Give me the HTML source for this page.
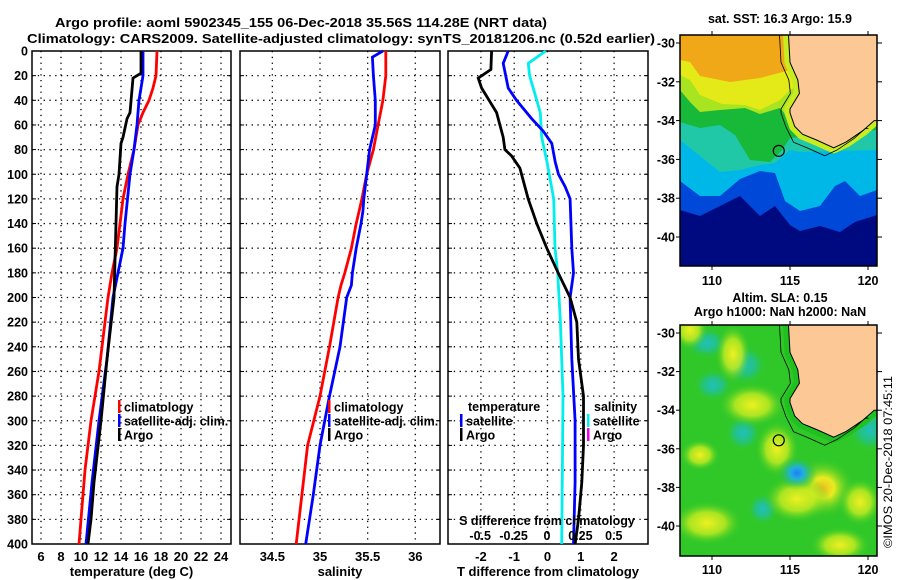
<!DOCTYPE html>
<html><head><meta charset="utf-8"><style>
html,body{margin:0;padding:0;background:#fff}
svg{display:block;font-family:"Liberation Sans",sans-serif;font-weight:bold}
</style></head><body>
<svg id="s" width="900" height="580" viewBox="0 0 900 580" xmlns="http://www.w3.org/2000/svg">
<defs>
<radialGradient id="gy"><stop offset="0" stop-color="#f0f020"/><stop offset="0.5" stop-color="#c8ec20" stop-opacity="0.8"/><stop offset="1" stop-color="#30c828" stop-opacity="0"/></radialGradient>
<radialGradient id="go"><stop offset="0" stop-color="#f0c020"/><stop offset="0.35" stop-color="#e8ec20"/><stop offset="1" stop-color="#30c828" stop-opacity="0"/></radialGradient>
<radialGradient id="gc"><stop offset="0" stop-color="#20c0c0"/><stop offset="0.5" stop-color="#20c0a0" stop-opacity="0.7"/><stop offset="1" stop-color="#30c828" stop-opacity="0"/></radialGradient>
<radialGradient id="gb"><stop offset="0" stop-color="#2080f0"/><stop offset="0.35" stop-color="#20b0e0"/><stop offset="1" stop-color="#30c828" stop-opacity="0"/></radialGradient>
<clipPath id="c1"><rect x="680" y="35" width="197" height="231"/></clipPath>
<clipPath id="c2"><rect x="680" y="325" width="197" height="231"/></clipPath>
</defs>
<text x="301" y="27" font-size="13" text-anchor="middle" textLength="492" lengthAdjust="spacingAndGlyphs">Argo profile: aoml 5902345_155 06-Dec-2018 35.56S 114.28E (NRT data)</text>
<text x="341" y="43" font-size="13" text-anchor="middle" textLength="628" lengthAdjust="spacingAndGlyphs">Climatology: CARS2009. Satellite-adjusted climatology: synTS_20181206.nc (0.52d earlier)</text>
<g id="plots"></g>
<g id="maps"></g>
<text transform="translate(892,462) rotate(-90)" font-size="12" font-weight="normal" text-anchor="middle" textLength="172" lengthAdjust="spacingAndGlyphs">©IMOS 20-Dec-2018 07:45:11</text>
</svg>
<script>
// ---- data ----
const depthsTC=[0,20,30,40,50,60,80,100,120,140,160,180,200,220,240,260,280,300,320,340,360,380,400];
const tempClim=[17.6,17.5,17.2,16.8,16.2,15.7,15.3,14.7,14.2,13.9,13.6,13.1,12.7,12.4,12.1,11.8,11.4,11.0,10.7,10.4,10.2,10.0,9.8];
const depthsTS=[0,20,40,60,80,100,140,160,200,250,300,350,400];
const tempSat=[16.2,16.2,15.8,15.6,15.3,14.9,14.4,14.2,13.2,12.6,11.8,11.1,10.5];
const depthsTA=[0,18,22,50,55,70,75,100,110,140,200,250,300,350,380,400];
const tempArgo=[16.0,16.0,15.2,14.9,14.6,14.2,14.0,13.8,13.6,13.5,13.3,12.6,12.0,11.3,11.0,10.7];
const depthsS=[0,5,20,40,60,80,100,120,130,140,160,180,190,200,240,280,320,360,400];
const salClim=[35.69,35.69,35.69,35.66,35.61,35.56,35.49,35.44,35.41,35.38,35.33,35.26,35.22,35.19,35.10,35.0,34.87,34.81,34.75];
const salSat=[35.66,35.55,35.56,35.58,35.58,35.52,35.49,35.46,35.45,35.43,35.38,35.34,35.33,35.28,35.21,35.10,35.0,34.93,34.85];
const depthsD=[0,15,22,30,45,50,60,70,80,85,95,120,140,160,180,200,220,250,280,300,320,350,380,400];
const dTArgo=[-1.68,-1.7,-2.08,-1.98,-1.64,-1.53,-1.43,-1.33,-1.28,-1.08,-0.83,-0.58,-0.32,-0.02,0.32,0.68,0.88,0.93,1.08,1.08,1.08,1.03,0.93,0.83];
const depthsDS=[0,10,30,40,55,65,75,90,100,110,120,160,180,200,250,300,350,400];
const dTSat=[-1.18,-1.33,-1.18,-0.93,-0.47,-0.13,0.13,0.23,0.33,0.53,0.68,0.73,0.78,0.68,0.73,0.83,0.83,0.78];
const depthsDC=[0,10,20,50,70,90,120,160,180,220,280,400];
const dSSat=[-0.01,-0.14,-0.13,-0.05,-0.04,0.0,0.05,0.06,0.08,0.10,0.12,0.11];
const depthTicks=[0,20,40,60,80,100,120,140,160,180,200,220,240,260,280,300,320,340,360,380,400];
const tempTicks=[6,8,10,12,14,16,18,20,22,24];
const salTicks=[34.5,35,35.5,36];
const dTTicks=[-2,-1,0,1,2];
const dSTicks=[-0.5,-0.25,0,0.25,0.5];
const lonTicks=[110,115,120];
const latTicks=[-30,-32,-34,-36,-38,-40];
const coastLon=[114.9,115.0,115.5,115.6,115.0,115.0,115.3,115.8,116.7,117.8,118.6,119.7,120.4,120.6];
const coastLat=[-29.5,-31.0,-31.9,-32.6,-33.4,-33.6,-34.3,-34.7,-35.0,-35.4,-35.1,-34.5,-34.0,-34.0];
const argoLon=114.28, argoLat=-35.56;

// ---- axes ----
const NS='http://www.w3.org/2000/svg';
const TOP=51,BOT=544;
const yD=d=>TOP+d*(BOT-TOP)/400;
const xT=t=>41+(t-6)*10;
const xS=s=>320+(s-35)*95.3;
const xDT=v=>547.5+v*33.3;
const xDS=v=>547+v*133.6;
function el(tag,attrs,parent){const e=document.createElementNS(NS,tag);for(const k in attrs)e.setAttribute(k,attrs[k]);parent.appendChild(e);return e;}
const plots=document.getElementById('plots');

function panel(name,x0,x1,ticks,xf,fmt,xlabel){
  const g=el('g',{},plots);
  
  
  depthTicks.forEach(d=>{if(d>0&&d<400){const l=el('line',{x1:x0,x2:x1,y1:yD(d),y2:yD(d),stroke:'#000','stroke-width':1.3,'stroke-dasharray':'1.3,4.5'},g);
    }
    const t1=el('line',{x1:x0,x2:x0+4,y1:yD(d),y2:yD(d),stroke:'#000'},g);
    const t2=el('line',{x1:x1-4,x2:x1,y1:yD(d),y2:yD(d),stroke:'#000'},g);
  });
  ticks.forEach(v=>{const x=xf(v);
    const l=el('line',{x1:x,x2:x,y1:TOP,y2:BOT,stroke:'#000','stroke-width':1.3,'stroke-dasharray':'1.3,4.5'},g);
    
    const t=el('text',{x:x,y:561,'font-size':13,'text-anchor':'middle'},g);t.textContent=fmt(v);
    });
  const r=el('rect',{x:x0,y:TOP,width:x1-x0,height:BOT-TOP,fill:'none',stroke:'#000','stroke-width':1.5},g);
  
  const xl=el('text',{x:(x0+x1)/2,y:576,'font-size':13,'text-anchor':'middle'},g);xl.textContent=xlabel;
  
  return g;
}
function line(g,name,ds,vs,xf,col){
  const p=el('polyline',{points:ds.map((d,i)=>xf(vs[i]).toFixed(1)+','+yD(d).toFixed(1)).join(' '),fill:'none',stroke:col,'stroke-width':2.8},g);
  
}
function legend(g,name,x,y,col,label){
  const m=el('rect',{x:x,y:y-7,width:2.5,height:13,fill:col},g);
  
  const t=el('text',{x:x+6,y:y+4.5,'font-size':12.5},g);t.textContent=label;
  
}
depthTicks.forEach(d=>{const t=el('text',{x:28,y:yD(d)+4.5,'font-size':12.5,'text-anchor':'end'},plots);t.textContent=d;
  });

const p1=panel('temperature-panel',32,231,tempTicks,xT,v=>v,'temperature (deg C)');
line(p1,'temp-climatology-line',depthsTC,tempClim,xT,'#ff0000');
line(p1,'temp-satellite-line',depthsTS,tempSat,xT,'#0000ff');
line(p1,'temp-argo-line',depthsTA,tempArgo,xT,'#000');
legend(p1,'legend-climatology',118,407,'#ff0000','climatology');
legend(p1,'legend-satellite-adj',118,421,'#0000ff','satellite-adj. clim.');
legend(p1,'legend-argo',118,435,'#000','Argo');

const p2=panel('salinity-panel',240,440,salTicks,xS,v=>v,'salinity');
line(p2,'sal-climatology-line',depthsS,salClim,xS,'#ff0000');
line(p2,'sal-satellite-line',depthsS,salSat,xS,'#0000ff');
legend(p2,'legend-climatology',328,407,'#ff0000','climatology');
legend(p2,'legend-satellite-adj',328,421,'#0000ff','satellite-adj. clim.');
legend(p2,'legend-argo',328,435,'#000','Argo');

const p3=panel('difference-panel',448,648,dTTicks,xDT,v=>v,'T difference from climatology');
line(p3,'dsal-satellite-line',depthsDC,dSSat,xDS,'#00eeee');
line(p3,'dtemp-satellite-line',depthsDS,dTSat,xDT,'#0000ff');
line(p3,'dtemp-argo-line',depthsD,dTArgo,xDT,'#000');
{const t=el('text',{x:468,y:411,'font-size':12.5},p3);t.textContent='temperature';
 const u=el('text',{x:594,y:411,'font-size':12.5},p3);u.textContent='salinity';}
legend(p3,'legend-t-satellite',460,421,'#0000ff','satellite');
legend(p3,'legend-t-argo',460,435,'#000','Argo');
legend(p3,'legend-s-satellite',587,421,'#00eeee','satellite');
legend(p3,'legend-s-argo',587,435,'#ee00ee','Argo');
{const t=el('text',{x:547,y:525,'font-size':12.5,'text-anchor':'middle'},p3);t.textContent='S difference from climatology';
 
 dSTicks.forEach(v=>{const l=el('text',{x:xDS(v),y:540,'font-size':12.5,'text-anchor':'middle'},p3);l.textContent=v;
  });}

// ---- maps ----
const maps=document.getElementById('maps');
const mx=lon=>712+(lon-110)*15.6;
function mapAxes(g,top,bot,my,lonY){
  latTicks.forEach(v=>{const y=my(v);
    const t=el('text',{x:675,y:y+4.5,'font-size':12.5,'text-anchor':'end'},g);t.textContent=v;
    
    const k=el('line',{x1:877,x2:882,y1:y,y2:y,stroke:'#000'},g);
    const k2=el('line',{x1:676,x2:680,y1:y,y2:y,stroke:'#000'},g);});
  lonTicks.forEach(v=>{const x=mx(v);
    const t=el('text',{x:x,y:lonY,'font-size':12.5,'text-anchor':'middle'},g);t.textContent=v;
    
    const k=el('line',{x1:x,x2:x,y1:top-4,y2:top,stroke:'#000'},g);
    const k2=el('line',{x1:x,x2:x,y1:bot,y2:bot+4,stroke:'#000'},g);});
  const r=el('rect',{x:680,y:top,width:197,height:bot-top,fill:'none',stroke:'#000','stroke-width':1.5},g);
  
}
function land(g,my,band){
  const pts=coastLon.map((l,i)=>mx(l).toFixed(1)+','+my(coastLat[i]).toFixed(1));
  const b=el('polyline',{points:pts.join(' '),fill:'none',stroke:band,'stroke-width':11,'stroke-linejoin':'round'},g);
  
  const p=el('polygon',{points:pts.join(' ')+' 880,'+my(-34)+' 880,'+my(-29)+' '+mx(114.9)+','+my(-29),fill:'#fbc896',stroke:'none'},g);
  
  const c=el('polyline',{points:pts.join(' '),fill:'none',stroke:'#000','stroke-width':1},g);
  
  const c2=el('polyline',{points:coastLon.map((l,i)=>(mx(l)-9).toFixed(1)+','+(my(coastLat[i])+(i>6?8:0)).toFixed(1)).join(' '),fill:'none',stroke:'#000','stroke-width':0.8},g);
  
}
const my1=lat=>43+(-30-lat)*19.4;
const g1=el('g',{},maps);


const gc1=el('g',{'clip-path':'url(#c1)'},g1);
const sstLayers=[
 ['#000a80','680,35 880,35 880,270 680,270'],
 ['#0048d8','680,35 880,35 877,215 855,222 840,232 820,226 800,231 790,225 775,206 760,216 740,196 720,206 700,216 680,210'],
 ['#00b8e8','680,35 880,35 877,190 860,196 845,181 835,186 820,206 800,211 785,201 775,173 760,171 740,179 720,196 700,196 680,181'],
 ['#20c8a8','680,35 880,35 877,150 800,152 790,150 775,163 760,165 740,170 720,172 700,156 680,140'],
 ['#18b838','680,35 880,35 877,130 790,138 782,150 770,162 750,160 735,135 720,125 700,128 680,122'],
 ['#a8e420','680,35 880,35 790,120 780,108 760,114 745,108 720,110 700,112 690,102 680,90'],
 ['#e4ea18','680,35 880,35 790,90 780,100 760,110 745,105 722,104 700,95 690,80 680,75'],
 ['#f0a818','680,35 790,35 790,70 760,78 730,82 700,76 690,62 680,60']];
sstLayers.forEach(l=>{const p=el('polygon',{points:l[1],fill:l[0]},gc1);
  });
land(gc1,my1,'#c8ec20');
{const c=el('circle',{cx:mx(argoLon),cy:my1(argoLat),r:5.5,fill:'none',stroke:'#000','stroke-width':1.2},g1);
 }
mapAxes(g1,35,266,my1,285);
{const t=el('text',{x:780,y:23,'font-size':12.5,'text-anchor':'middle'},g1);t.textContent='sat. SST: 16.3 Argo: 15.9';
 }

const my2=lat=>333+(-30-lat)*19.3;
const g2=el('g',{},maps);


const gc2=el('g',{'clip-path':'url(#c2)'},g2);
{const b=el('rect',{x:680,y:325,width:197,height:231,fill:'#30c828'},gc2);}
const blobs=[['gc',707,343,22,16],['gc',745,365,22,20],['gc',870,430,22,22],['gc',713,385,20,16],['gc',743,433,18,18],['gc',763,509,16,16],
 ['gy',733,354,18,30],['gy',752,405,34,22],['gy',777,449,22,28],['go',823,488,32,30],['gy',797,499,34,24],['gy',707,523,36,22],['gy',860,502,22,24],['gy',690,330,18,20],['gy',840,545,30,18],['gy',700,455,20,16],['gy',805,400,18,14],
 ['gb',797,473,20,17]];
blobs.forEach(b=>{const e=el('ellipse',{cx:b[1],cy:b[2],rx:b[3],ry:b[4],fill:'url(#'+b[0]+')'},gc2);
  });
land(gc2,my2,'#20c020');
{const c=el('circle',{cx:mx(argoLon),cy:my2(argoLat),r:5.5,fill:'none',stroke:'#000','stroke-width':1.2},g2);
 }
mapAxes(g2,325,556,my2,574);
{const t=el('text',{x:780,y:302,'font-size':12.5,'text-anchor':'middle'},g2);t.textContent='Altim. SLA: 0.15';
 
 const u=el('text',{x:780,y:316,'font-size':12.5,'text-anchor':'middle'},g2);u.textContent='Argo h1000: NaN h2000: NaN';
 }
</script>
</body></html>
